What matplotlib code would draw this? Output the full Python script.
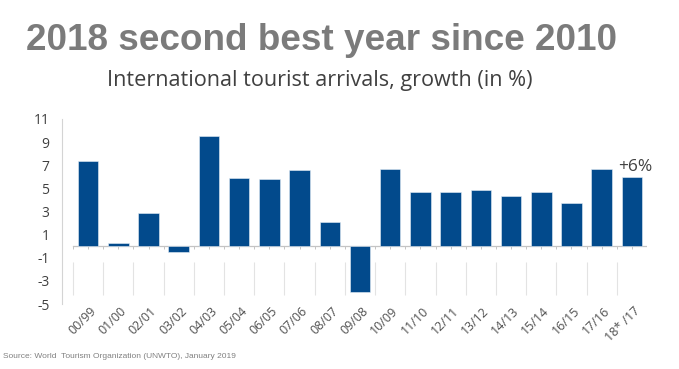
import matplotlib
matplotlib.use("Agg")
import matplotlib.pyplot as plt
import matplotlib.transforms as mtrans
import numpy as np

categories = ["00/99", "01/00", "02/01", "03/02", "04/03", "05/04", "06/05",
              "07/06", "08/07", "09/08", "10/09", "11/10", "12/11", "13/12",
              "14/13", "15/14", "16/15", "17/16", "18* /17"]
growth = [7.4, 0.3, 2.9, -0.5, 9.5, 5.9, 5.8, 6.6, 2.1, -4.0, 6.7, 4.7, 4.7,
          4.9, 4.3, 4.7, 3.7, 6.7, 6.0]
yticks = [-5, -3, -1, 1, 3, 5, 7, 9, 11]

title = "2018 second best year since 2010"
subtitle = "International tourist arrivals, growth (in %)"
source = "Source: World  Tourism Organization (UNWTO), January 2019"
last_label = "+6%"

BAR = "#024a8c"
GRID = "#d4d4d4"
TXT = "#404040"
LABEL_FONT = ["Open Sans", "DejaVu Sans"]

W, H = 679, 369
fig = plt.figure(figsize=(W / 100, H / 100), dpi=100)
ax = fig.add_axes([62 / W, (H - 304) / H, (647 - 62) / W, (304 - 119) / H])

x = np.arange(len(categories))
ax.bar(x, growth, width=0.68, color=BAR, edgecolor="#e6eef6", linewidth=0.4, zorder=3)

ax.set_xlim(-0.864, len(categories) - 0.5)
ax.set_ylim(-5, 11)
ax.set_yticks(yticks)
ax.set_yticklabels([str(v) for v in yticks], fontsize=10, color=TXT, family=LABEL_FONT)
ax.tick_params(axis="y", length=0, pad=9)

for s in ["top", "right", "bottom"]:
    ax.spines[s].set_visible(False)
ax.spines["left"].set_color(GRID)
ax.spines["left"].set_linewidth(0.8)

# zero line with small ticks
ax.axhline(0, xmin=(-0.5 + 0.864) / (len(categories) - 0.5 + 0.864), xmax=1,
           color="#c4c4c4", lw=0.9, zorder=2)
tick_pos = np.arange(-0.5, len(categories), 0.5)
ax.vlines(tick_pos, -0.25, 0, color="#c4c4c4", lw=0.7, zorder=2)

# category separators below the zero line
ax.vlines(np.arange(-0.5, len(categories) - 1, 1.0), -4.2, -1.4,
          color="#e3e3e3", lw=0.8, zorder=1)

ax.set_xticks(x)
ax.set_xticklabels(categories, rotation=45, ha="right", va="top",
                   rotation_mode="anchor", fontsize=9, color="#505050",
                   family=LABEL_FONT)
ax.tick_params(axis="x", length=0, pad=0.5)
offset = mtrans.ScaledTranslation(1.5 / 100, 0, fig.dpi_scale_trans)
for lab in ax.get_xticklabels():
    lab.set_transform(lab.get_transform() + offset)

ax.text(x[-1] + 0.1, growth[-1] + 0.5, last_label, ha="center", va="baseline",
        fontsize=12.5, color=TXT, family=LABEL_FONT)

fig.text(26 / W, 1 - 50 / H, title, ha="left", va="baseline", fontsize=26.6,
         fontweight="bold", color="#7b7b7b", family=["Liberation Sans", "DejaVu Sans"])
fig.text(107 / W, 1 - 86 / H, subtitle, ha="left", va="baseline", fontsize=15.6,
         color=TXT, family=LABEL_FONT)
fig.text(3 / W, 1 - 358 / H, source, ha="left", va="baseline", fontsize=6,
         color="#808080", family=["Liberation Sans", "DejaVu Sans"])

fig.savefig("out.png", dpi=100, facecolor="white")
